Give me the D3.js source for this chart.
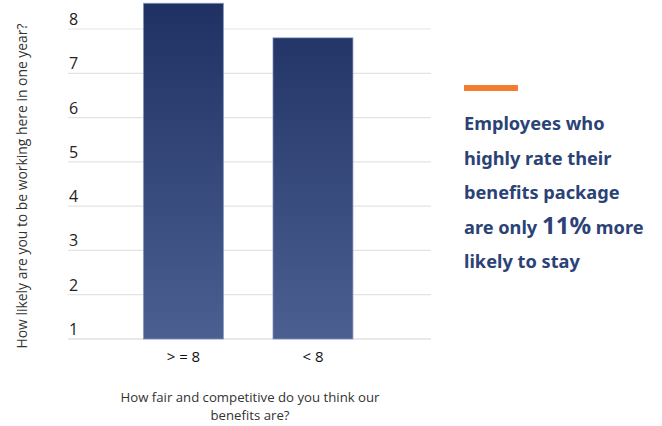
<!DOCTYPE html>
<html><head><meta charset="utf-8">
<script src="https://cdn.jsdelivr.net/npm/d3@7"></script>
<style>body{margin:0;background:#fff}svg{display:block}</style>
</head><body>
<svg id="chart" width="662" height="426"></svg>
<script>
const categories = ["> = 8", "< 8"];
const values = [8.58, 7.80];
const yTicks = [1, 2, 3, 4, 5, 6, 7, 8];
const yTitle = "How likely are you to be working here in one year?";
const xTitleLines = ["How fair and competitive do you think our", "benefits are?"];
const calloutLines = [
  [{t:"Employees who"}],
  [{t:"highly rate their"}],
  [{t:"benefits package"}],
  [{t:"are only "}, {t:"11%", big:true}, {t:" more"}],
  [{t:"likely to stay"}]
];

const svg = d3.select("#chart");
const left = 68, right = 431;
const y = d3.scaleLinear().domain([1, 8]).range([339, 29]);
const x = d3.scaleBand().domain(categories).range([66.7, 429.7]).paddingInner(0.375).paddingOuter(0.589);

const defs = svg.append("defs");
const grad = defs.append("linearGradient").attr("id","barGrad")
  .attr("gradientUnits","userSpaceOnUse").attr("x1",0).attr("x2",0).attr("y1", y(8.6)).attr("y2", y(1));
grad.append("stop").attr("offset","0%").attr("stop-color","#1e3162");
grad.append("stop").attr("offset","100%").attr("stop-color","#4b5f90");

// gridlines
svg.append("g").selectAll("line").data(yTicks).join("line")
  .attr("x1", left).attr("x2", right)
  .attr("y1", d => y(d)).attr("y2", d => y(d))
  .attr("stroke", d => d === 1 ? "#d4d4d4" : "#e3e3e3").attr("stroke-width", 1.2);

// y tick labels
svg.append("g").selectAll("text").data(yTicks).join("text")
  .attr("x", 69).attr("y", d => y(d) - 4)
  .attr("font-family", "'Open Sans', sans-serif").attr("font-size", 16).attr("fill", "#222")
  .text(d => d);

// bars
svg.append("g").selectAll("rect").data(values).join("rect")
  .attr("x", (d,i) => x(categories[i]) + 0.5)
  .attr("width", x.bandwidth() - 1)
  .attr("y", d => y(d))
  .attr("height", d => y(1) - y(d))
  .attr("fill", "url(#barGrad)")
  .attr("stroke", "#8191bd").attr("stroke-width", 1).attr("stroke-opacity", 0.7);

// x tick labels
svg.append("g").selectAll("text").data(categories).join("text")
  .attr("x", d => x(d) + x.bandwidth()/2).attr("y", 362)
  .attr("text-anchor", "middle")
  .attr("font-family", "'Open Sans', sans-serif").attr("font-size", 15).attr("fill", "#111")
  .text(d => d);

// y title
svg.append("text")
  .attr("transform", "translate(27," + 186 + ") rotate(-90)")
  .attr("text-anchor", "middle")
  .attr("font-family", "'Open Sans', sans-serif").attr("font-size", 13.9).attr("fill", "#333")
  .text(yTitle);

// x title (two lines)
svg.append("g").selectAll("text").data(xTitleLines).join("text")
  .attr("text-anchor", "middle")
  .attr("font-family", "'Open Sans', sans-serif").attr("font-size", 13.2).attr("fill", "#333")
  .attr("x", 250).attr("y", (d,i) => 402 + i*18)
  .text(d => d);

// callout
svg.append("rect").attr("x", 464).attr("y", 85).attr("width", 54).attr("height", 6).attr("fill", "#f47b2f");
const callout = svg.append("g");
calloutLines.forEach((parts, i) => {
  const t = callout.append("text").attr("x", 464).attr("y", 130 + i*34.5)
    .attr("font-family", "'Noto Sans', sans-serif").attr("font-weight", 700)
    .attr("font-size", 18.2).attr("fill", "#2b4276");
  parts.forEach(p => t.append("tspan").attr("font-size", p.big ? 24 : null).text(p.t));
});
</script>
</body></html>
